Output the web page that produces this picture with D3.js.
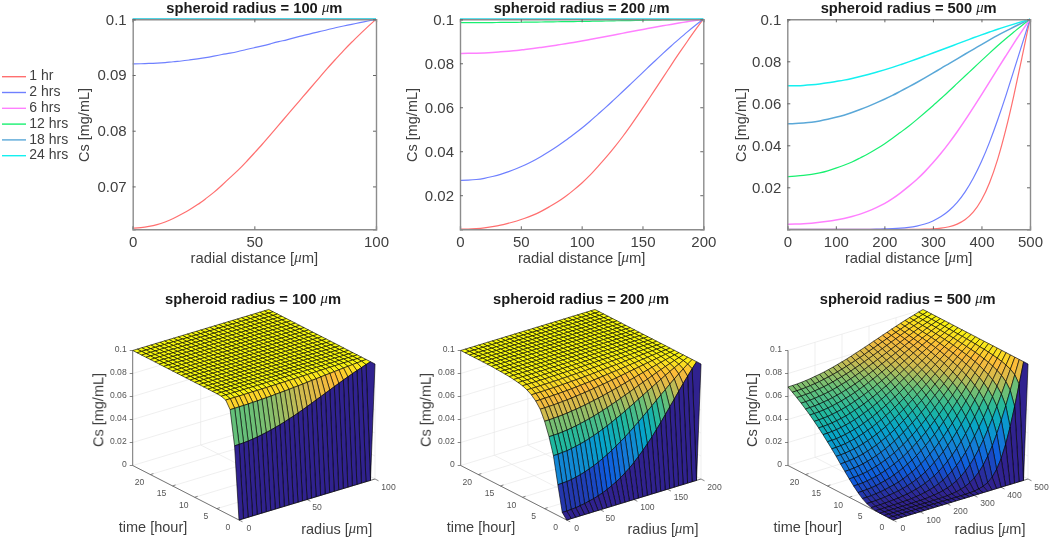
<!DOCTYPE html>
<html><head><meta charset="utf-8">
<script src="https://cdn.jsdelivr.net/npm/d3@7"></script>
<style>
html,body{margin:0;padding:0;background:#fff}
svg{display:block;font-family:"Liberation Sans",Arial,sans-serif}
.soft{filter:blur(0.3px)}
</style></head><body><div id="c"></div>
<script>
// Every table below holds Cs in units of 1e-4 mg/mL.
// One row per hour (1 hr first), one column per mesh node from r = 0 to r = R.
const valueUnit = 1e-4;
const startRow = [0,0,0,0,0,0,0,0,0,0,0,0,0,0,0,0,0,0,0,0,0,0,0,0,0,0,0,0,0,0,1000];
const plateauValue = 1000;
const radii = [100, 200, 500];
const hourLabels = ["1 hr","2 hrs","6 hrs","12 hrs","18 hrs","24 hrs"];
const lineHours = [1,2,6,12,18,24];
const lineColors = ["#ff6f6f","#6f80ff","#ff80ff","#18f070","#5aa8d8","#14f0f0"];
const meshHours = [0,1,2,3,4,5,6,7,8,9,10,11,12,13,14,15,16,17,18,19,20,21,22,23,24];
const parulaStops = ["#30228f","#0f5cdd","#1481d6","#06a4ca","#1fb8a0","#64c07a","#cdbb50","#fdbb3a","#f9fb0e"];
const xTicksTop = [[0,50,100],[0,50,100,150,200],[0,100,200,300,400,500]];
const yTicksTop = [[0.07,0.08,0.09,0.1],[0.02,0.04,0.06,0.08,0.1],[0.02,0.04,0.06,0.08,0.1]];
const yFloorTop = [0.0623,0.0045,0];
const rTicks3d = [[0,50,100],[0,50,100,150,200],[0,100,200,300,400,500]];
const tTicks3d = [0,5,10,15,20];
const zTicks3d = [0,0.02,0.04,0.06,0.08,0.1];

const surface100 = [
[625,626,628,631,636,642,650,658,667,678,689,702,716,729,744,760,776,793,810,827,844,861,878,895,912,928,944,959,973,987,1000],
[920,920,921,921,922,924,925,927,929,931,934,937,939,942,946,949,952,956,960,963,967,971,974,978,981,985,988,991,994,997,1000],
[984,984,984,984,984,985,985,985,986,986,987,987,988,988,989,990,990,991,992,993,993,994,995,996,996,997,998,998,999,999,1000],
[997,997,997,997,997,997,997,997,997,997,998,998,998,998,998,998,998,998,998,999,999,999,999,999,999,999,1000,1000,1000,1000,1000]
];
const surface200 = [
[46,46,48,51,57,63,73,82,95,109,126,147,168,193,223,254,289,330,371,416,463,514,567,622,678,733,790,845,898,951,1000],
[267,269,271,276,285,294,307,321,337,355,376,398,422,448,476,504,535,568,600,635,669,704,739,775,809,844,878,910,942,972,1000],
[500,501,504,507,514,522,531,541,554,568,583,600,617,636,657,676,698,720,742,766,788,811,834,857,879,902,923,944,963,983,1000],
[645,646,647,651,655,661,668,676,685,695,706,718,731,744,759,773,789,805,820,837,853,869,885,901,917,932,947,961,975,988,1000],
[760,760,762,764,767,771,776,781,787,794,802,810,818,827,837,847,857,868,879,890,901,912,922,933,944,954,964,974,983,992,1000],
[845,845,846,847,849,852,855,858,863,867,872,877,883,889,895,901,908,915,922,929,936,943,950,957,964,970,977,983,989,995,1000],
[896,896,897,898,899,901,903,905,908,911,914,918,921,925,929,934,938,943,947,952,957,962,966,971,976,980,985,989,993,996,1000],
[931,931,931,932,933,934,935,937,939,941,943,945,948,950,953,956,959,962,965,968,971,975,978,981,984,987,990,992,995,998,1000],
[954,954,954,955,955,956,957,958,959,961,962,964,965,967,969,971,973,975,977,979,981,983,985,987,989,991,993,995,997,998,1000],
[970,970,970,970,971,971,972,973,973,974,975,976,977,978,980,981,982,984,985,986,988,989,990,992,993,994,996,997,998,999,1000],
[978,978,978,978,979,979,979,980,980,981,982,983,983,984,985,986,987,988,989,990,991,992,993,994,995,996,997,998,998,999,1000],
[985,985,985,985,985,986,986,986,987,987,988,988,989,989,990,990,991,992,992,993,994,994,995,996,996,997,998,998,999,999,1000],
[990,990,990,990,990,990,991,991,991,991,992,992,992,993,993,994,994,995,995,995,996,996,997,997,998,998,999,999,999,1000,1000],
[993,993,993,993,993,993,993,994,994,994,994,994,995,995,995,996,996,996,996,997,997,997,998,998,998,999,999,999,1000,1000,1000],
[995,995,995,995,995,995,995,995,996,996,996,996,996,996,997,997,997,997,997,998,998,998,998,999,999,999,999,999,1000,1000,1000],
[997,997,997,997,997,997,997,997,997,997,998,998,998,998,998,998,998,998,998,999,999,999,999,999,999,999,1000,1000,1000,1000,1000]
];
const surface500 = [
[0,0,0,0,0,0,0,0,0,0,0,0,0,0,0,0,0,1,2,5,11,23,44,79,135,217,328,469,634,816,1000],
[0,0,0,0,0,0,0,0,0,0,0,1,2,3,5,9,15,24,39,59,88,126,177,242,320,413,519,633,755,879,1000],
[0,0,0,0,0,1,1,2,3,4,6,9,14,20,29,41,57,79,106,141,183,235,295,365,443,528,619,714,811,907,1000],
[2,2,3,3,4,5,7,9,12,17,22,30,40,53,69,89,114,145,181,222,271,326,388,454,527,604,683,764,845,924,1000],
[9,9,10,12,14,17,20,25,31,40,50,62,78,97,119,145,176,211,251,296,347,403,462,524,590,659,729,799,869,936,1000],
[24,25,26,29,33,38,44,51,60,72,86,103,121,145,173,204,236,274,316,361,411,464,520,580,640,702,764,825,886,944,1000],
[48,48,50,54,59,66,75,84,96,111,129,148,170,195,225,256,292,332,373,419,466,517,569,623,679,735,791,845,900,951,1000],
[80,81,84,87,93,102,113,123,139,155,175,197,220,248,278,311,347,385,426,470,515,564,612,661,712,763,813,863,910,957,1000],
[118,119,121,127,134,142,154,168,183,202,221,243,269,297,328,360,395,434,472,514,558,602,647,694,740,786,833,877,920,962,1000],
[160,161,164,169,176,187,199,212,229,247,268,291,316,344,375,406,440,477,514,554,595,637,679,722,764,806,848,888,928,965,1000],
[205,207,210,215,223,233,245,259,276,295,315,338,363,390,420,450,483,518,553,591,629,667,706,746,785,824,862,899,934,969,1000],
[250,253,256,261,268,278,291,305,320,340,359,382,406,433,462,490,522,555,588,623,658,695,731,767,803,839,874,908,939,971,1000],
[297,298,301,307,314,323,336,349,366,383,403,424,448,473,501,528,558,589,620,653,685,719,753,786,820,852,885,915,944,974,1000],
[342,343,346,351,359,368,380,393,409,425,445,465,488,511,537,563,591,620,650,680,710,742,772,803,834,864,894,922,949,976,1000],
[384,385,387,393,400,410,420,433,448,464,482,502,524,546,570,595,621,649,676,704,733,762,791,819,847,876,902,929,954,977,1000],
[426,427,430,434,441,450,460,472,487,503,519,538,558,579,602,625,649,675,701,727,753,780,807,833,859,886,910,934,957,979,1000],
[465,466,469,473,480,488,497,509,523,538,553,571,590,609,631,652,675,699,722,747,772,797,822,846,870,894,918,939,960,981,1000],
[502,503,506,509,516,524,533,543,556,570,585,602,619,637,658,678,699,721,743,767,789,812,835,857,880,902,924,944,963,983,1000],
[538,539,541,545,551,558,567,577,589,601,615,631,647,665,683,702,722,742,763,784,805,827,848,869,889,910,929,948,967,984,1000],
[570,571,573,577,583,589,597,607,617,630,643,657,672,689,706,724,742,762,780,800,819,839,859,878,897,916,934,953,969,985,1000],
[601,602,604,607,613,618,626,635,645,657,669,682,697,711,727,744,761,779,797,814,833,851,869,887,905,923,940,956,971,986,1000],
[630,631,633,636,641,647,653,661,671,682,693,705,718,733,748,763,779,796,812,829,846,863,880,897,913,929,945,959,974,987,1000],
[657,658,659,662,667,672,678,686,695,704,715,726,739,752,766,780,795,811,826,842,857,873,889,904,919,934,949,962,976,988,1000],
[683,684,685,688,692,697,704,710,718,727,737,748,759,771,784,797,811,825,839,854,868,883,897,912,926,939,953,965,977,989,1000]
];
const surfaces = [surface100, surface200, surface500];

const W = 1050, H = 539;
const svg = d3.select("#c").append("svg").attr("width",W).attr("height",H);
const ink = "#404040";
const parula = d3.scaleLinear().domain(d3.range(parulaStops.length).map(i=>i/(parulaStops.length-1)*0.1)).range(parulaStops).clamp(true);
const plateauRow = startRow.map(()=>plateauValue);
function rowAt(tbl,h){ if(h===0) return startRow; return h-1<tbl.length?tbl[h-1]:plateauRow; }
function nodeR(R,i){ return i/(startRow.length-1)*R; }

function title(g,x,y,R){
  const t=g.append("text").attr("x",x).attr("y",y).attr("text-anchor","middle").attr("dominant-baseline","middle")
    .attr("font-size",14.7).attr("font-weight","bold").attr("fill","#1a1a1a");
  t.append("tspan").text("spheroid radius = "+R+" ");
  t.append("tspan").attr("font-family","'Liberation Serif',serif").attr("font-style","italic").attr("font-weight","normal").text("\u03bc");
  t.append("tspan").text("m");
}
function muLabel(g,x,y,pre,size){
  const t=g.append("text").attr("x",x).attr("y",y).attr("text-anchor","middle").attr("dominant-baseline","middle")
    .attr("font-size",size).attr("fill",ink);
  t.append("tspan").text(pre+" [");
  t.append("tspan").attr("font-family","'Liberation Serif',serif").attr("font-style","italic").text("\u03bc");
  t.append("tspan").text("m]");
}
function csLabel(g,x,y){
  g.append("text").attr("transform",`translate(${x},${y}) rotate(-90)`).attr("text-anchor","middle").attr("dominant-baseline","middle")
    .attr("font-size",14.5).attr("fill",ink).text("Cs [mg/mL]");
}

// Top row: line charts
const topBox = [{l:132.7,r:376,lab:85},{l:460,r:703.3,lab:413},{l:787.3,r:1030,lab:741.7}];
const topY0 = 229.3, topY1 = 19.3;
radii.forEach((R,p)=>{
  const b=topBox[p], g=svg.append("g").attr("class","soft");
  const x=d3.scaleLinear().domain([0,R]).range([b.l,b.r]);
  const y=d3.scaleLinear().domain([yFloorTop[p],0.1]).range([topY0,topY1]);
  const line=d3.line().x((d,i)=>x(nodeR(R,i))).y(d=>y(d*valueUnit)).curve(d3.curveBasis);
  lineHours.forEach((h,k)=>{
    g.append("path").attr("d",line(rowAt(surfaces[p],h))).attr("fill","none").attr("stroke",lineColors[k]).attr("stroke-width",k>=4||k==2?1.5:1.2);
  });
  const yf=d=>d===0.1?"0.1":d3.format(".2f")(d);
  const ax=[
    g.append("g").attr("transform",`translate(0,${topY0})`).call(d3.axisBottom(x).tickValues(xTicksTop[p]).tickSize(-3).tickPadding(7).tickFormat(d3.format("d"))),
    g.append("g").attr("transform",`translate(0,${topY1})`).call(d3.axisTop(x).tickValues(xTicksTop[p]).tickSize(-3).tickFormat("")),
    g.append("g").attr("transform",`translate(${b.l},0)`).call(d3.axisLeft(y).tickValues(yTicksTop[p]).tickSize(-3).tickPadding(6).tickFormat(yf)),
    g.append("g").attr("transform",`translate(${b.r},0)`).call(d3.axisRight(y).tickValues(yTicksTop[p]).tickSize(-3).tickFormat(""))
  ];
  ax.forEach(a=>{
    a.select(".domain").attr("stroke","#8c8c8c").attr("stroke-width",1.4);
    a.selectAll(".tick line").attr("stroke","#666");
    a.selectAll("text").attr("font-size",15).attr("font-family","'Liberation Sans',sans-serif").attr("fill",ink);
  });
  title(g,(b.l+b.r)/2,9,R);
  muLabel(g,(b.l+b.r)/2,258.7,"radial distance",14.8);
  csLabel(g,b.lab,125);
});

// Legend
const legend = svg.append("g").attr("class","soft");
const legY = d3.scalePoint().domain(hourLabels).range([76.7,155.7]);
hourLabels.forEach((lab,k)=>{
  legend.append("line").attr("x1",2).attr("x2",26).attr("y1",legY(lab)).attr("y2",legY(lab)).attr("stroke",lineColors[k]).attr("stroke-width",1.4);
  legend.append("text").attr("x",29.3).attr("y",legY(lab)).attr("dominant-baseline","middle").attr("font-size",14).attr("fill",ink).text(lab);
});

// Bottom row: surfaces, oblique projection of (r, hour, Cs)
const box3d = [
 {nx:239,rdx:136,tdx:-106.3,tc:253,cs:99.3,tl:153,rl:336.7},
 {nx:566.7,rdx:134.3,tdx:-106,tc:581,cs:426.7,tl:481,rl:663},
 {nx:893,rdx:135,tdx:-105,tc:907.7,cs:753,tl:807.7,rl:990}
];
const nearY = 520, rdy=-41, tdy=-54.5, zh=115;
radii.forEach((R,p)=>{
  const b=box3d[p], g=svg.append("g").attr("class","soft");
  const rx=d3.scaleLinear().domain([0,R]).range([0,b.rdx]);
  const ry=d3.scaleLinear().domain([0,R]).range([0,rdy]);
  const tx=d3.scaleLinear().domain([0,24]).range([0,b.tdx]);
  const ty=d3.scaleLinear().domain([0,24]).range([0,tdy]);
  const zy=d3.scaleLinear().domain([0,0.1]).range([0,-zh]);
  const P=(r,t,z)=>[b.nx+rx(r)+tx(t), nearY+ry(r)+ty(t)+zy(z)];
  const seg=(a,c,col,w)=>g.append("line").attr("x1",a[0]).attr("y1",a[1]).attr("x2",c[0]).attr("y2",c[1]).attr("stroke",col).attr("stroke-width",w);
  const grid="#e4e4e4";
  // back walls and floor grid
  zTicks3d.forEach(z=>{ seg(P(0,24,z),P(R,24,z),grid,.6); seg(P(R,24,z),P(R,0,z),grid,.6); });
  rTicks3d[p].forEach(r=>{ seg(P(r,24,0),P(r,24,0.1),grid,.6); seg(P(r,0,0),P(r,24,0),grid,.6); });
  tTicks3d.forEach(t=>{ seg(P(0,t,0),P(R,t,0),grid,.6); seg(P(R,t,0),P(R,t,0.1),grid,.6); });
  // axes
  seg(P(0,24,0),P(0,24,0.1),"#555",.8);
  seg(P(0,24,0),P(0,0,0),"#555",.8);
  seg(P(0,0,0),P(R,0,0),"#555",.8);
  const small=(x,y,txt,anchor)=>g.append("text").attr("x",x).attr("y",y).attr("text-anchor",anchor).attr("dominant-baseline","middle").attr("font-size",8.6).attr("fill","#555").text(txt);
  zTicks3d.forEach(z=>{
    const q=P(0,24,z); seg(q,[q[0]-3,q[1]],"#555",.7);
    small(q[0]-6,q[1]-.5,z===0.1?"0.1":z===0?"0":d3.format(".2f")(z),"end");
  });
  tTicks3d.forEach(t=>{
    const q=P(0,t,0); seg(q,[q[0]+3,q[1]-1],"#555",.7);
    small(q[0]-11,q[1]+8,t,"middle");
  });
  rTicks3d[p].forEach(r=>{
    const q=P(r,0,0); seg(q,[q[0]+3.5,q[1]+1.8],"#555",.7);
    small(q[0]+(r>=100?13.5:10),q[1]+8.5,r,"middle");
  });
  // mesh cells painted back to front; each cell takes the colour of its lowest-index corner
  const cells=[];
  const cols=d3.range(startRow.length-1);
  meshHours.slice(0,-1).slice().reverse().forEach(h=>{
    const r0=rowAt(surfaces[p],h), r1=rowAt(surfaces[p],h+1);
    cols.slice().reverse().forEach(i=>{
      cells.push({col:r0[i]*valueUnit, pts:[
        P(nodeR(R,i),h,r0[i]*valueUnit),P(nodeR(R,i+1),h,r0[i+1]*valueUnit),
        P(nodeR(R,i+1),h+1,r1[i+1]*valueUnit),P(nodeR(R,i),h+1,r1[i]*valueUnit)]});
    });
  });
  svg.append("g").selectAll("path").data(cells).join("path")
    .attr("d",d=>"M"+d.pts.map(q=>q[0].toFixed(2)+","+q[1].toFixed(2)).join("L")+"Z")
    .attr("fill",d=>parula(d.col)).attr("stroke","#000").attr("stroke-width",.62).attr("stroke-linejoin","round");
  const lab=svg.append("g").attr("class","soft");
  title(lab,b.tc,300,R);
  csLabel(lab,b.cs,410);
  lab.append("text").attr("x",b.tl).attr("y",527.7).attr("text-anchor","middle").attr("dominant-baseline","middle").attr("font-size",14.5).attr("fill",ink).text("time [hour]");
  muLabel(lab,b.rl,530,"radius",14.5);
});
</script></body></html>
